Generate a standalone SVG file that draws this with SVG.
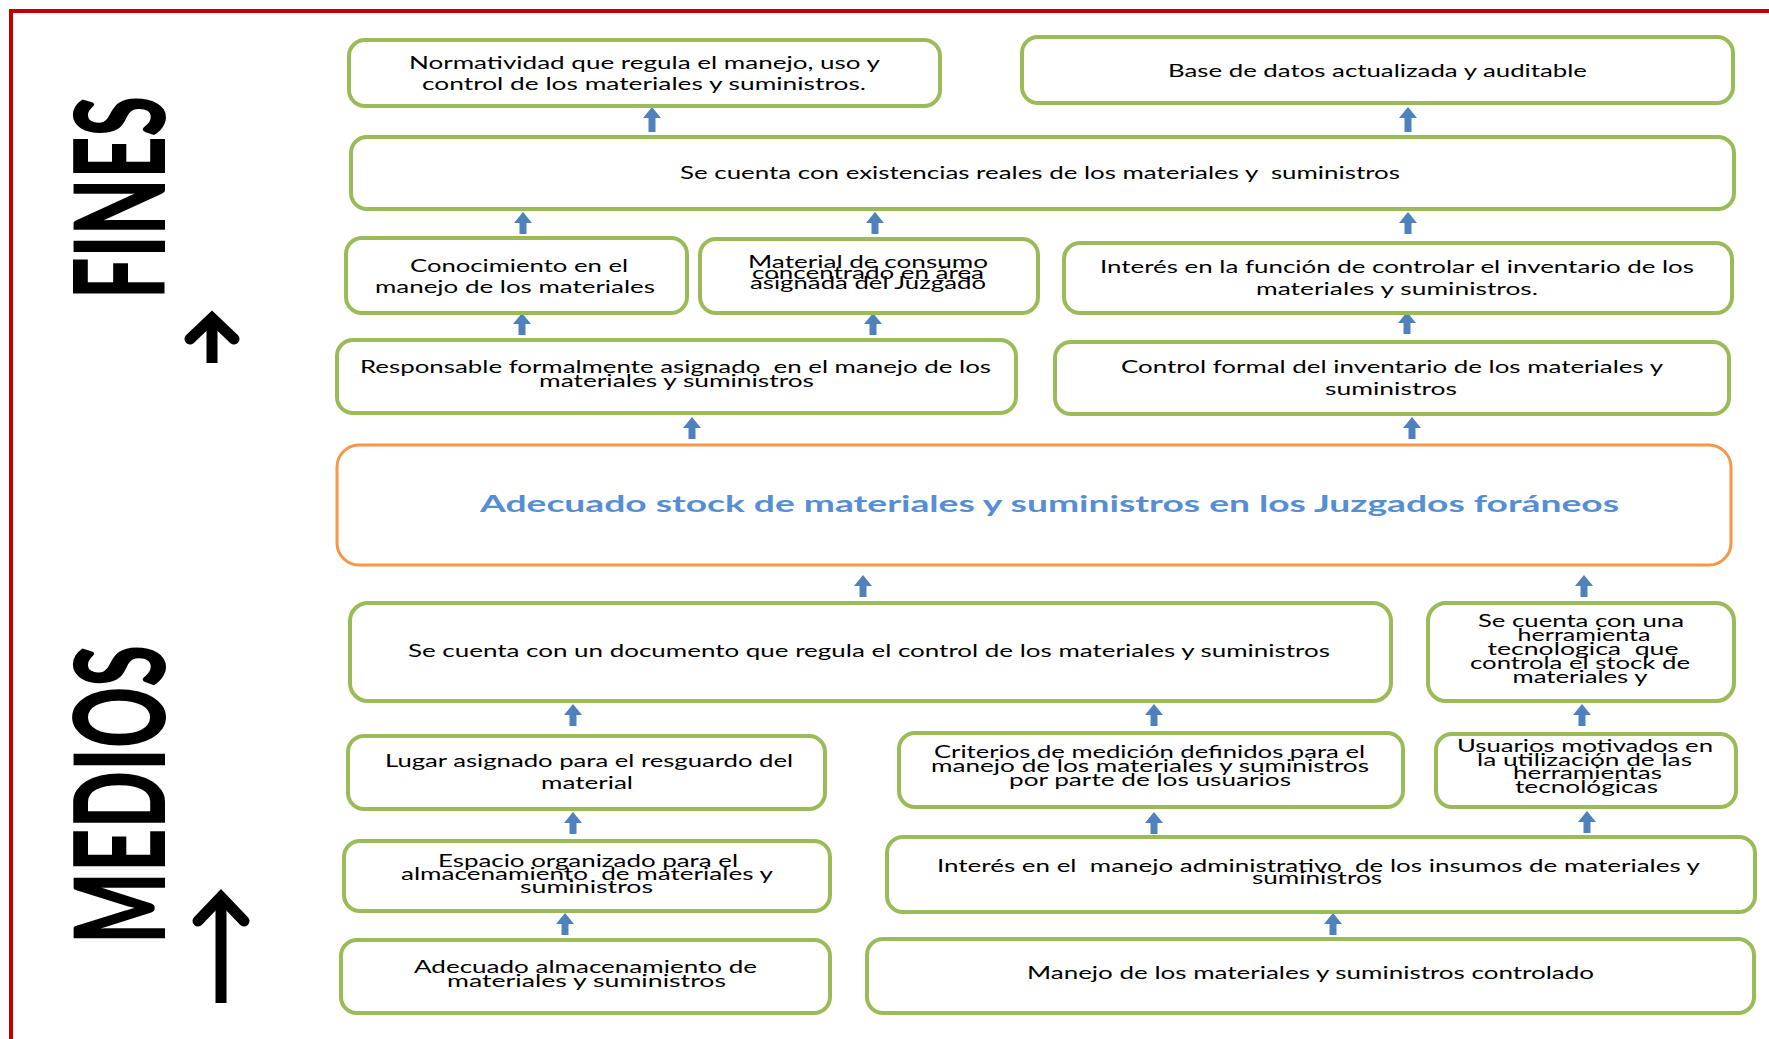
<svg xmlns="http://www.w3.org/2000/svg" xmlns:xlink="http://www.w3.org/1999/xlink" width="1769" height="1039" viewBox="0 0 1769 1039">
  <style>
    .box { fill: #ffffff; stroke: #9BBB59; stroke-width: 4; }
    .core { fill: #ffffff; stroke: #F79646; stroke-width: 3; }
    .t { font-family: Lato, "Open Sans", "Liberation Sans", sans-serif; font-size: 17px; fill: #000000; text-anchor: middle; }
    .core-t { font-family: Lato, "Open Sans", "Liberation Sans", sans-serif; font-size: 22px; font-weight: 700; fill: #558ED5; text-anchor: middle; }
    .side { font-family: Lato, "Open Sans", "Liberation Sans", sans-serif; font-size: 126px; font-weight: 900; fill: #000000; }
    .big-arrow { fill: none; stroke: #000000; stroke-width: 11; }
    .link { fill: #4F81BD; }
  </style>
  <defs>
    <path id="up25" d="M0,0 L9,11 L3.5,11 L3.5,25 L-3.5,25 L-3.5,11 L-9,11 Z"/>
    <path id="up22" d="M0,0 L9,11 L3.5,11 L3.5,22 L-3.5,22 L-3.5,11 L-9,11 Z"/>
  </defs>

  <rect width="1769" height="1039" fill="#ffffff"/>

  <!-- frame -->
  <path d="M11,1039 V11 H1769" fill="none" stroke="#C00000" stroke-width="4"/>

  <!-- side labels -->
  <g id="label-fines">
    <text class="side" transform="translate(165,299) rotate(-90)" textLength="203" lengthAdjust="spacingAndGlyphs">FINES</text>
    <path class="big-arrow" d="M212,363 V320" stroke-linecap="butt"/>
    <path class="big-arrow" d="M190,339 L212,318 L234,339" stroke-linecap="round" stroke-linejoin="miter"/>
  </g>
  <g id="label-medios">
    <text class="side" transform="translate(165,944) rotate(-90)" textLength="299" lengthAdjust="spacingAndGlyphs">MEDIOS</text>
    <path class="big-arrow" d="M221,1003 V900" stroke-linecap="butt"/>
    <path class="big-arrow" d="M198,921 L221,897 L244,921" stroke-linecap="round" stroke-linejoin="miter"/>
  </g>

  <!-- connectors -->
  <g id="connectors" class="link">
    <use xlink:href="#up25" transform="translate(652,107)"/>
    <use xlink:href="#up25" transform="translate(1408,107)"/>
    <use xlink:href="#up22" transform="translate(523,212)"/>
    <use xlink:href="#up22" transform="translate(875,212)"/>
    <use xlink:href="#up22" transform="translate(1408,212)"/>
    <use xlink:href="#up22" transform="translate(522,313)"/>
    <use xlink:href="#up22" transform="translate(873,313)"/>
    <use xlink:href="#up22" transform="translate(1407,312)"/>
    <use xlink:href="#up22" transform="translate(692,417)"/>
    <use xlink:href="#up22" transform="translate(1412,417)"/>
    <use xlink:href="#up22" transform="translate(863,575)"/>
    <use xlink:href="#up22" transform="translate(1584,575)"/>
    <use xlink:href="#up22" transform="translate(573,704)"/>
    <use xlink:href="#up22" transform="translate(1154,704)"/>
    <use xlink:href="#up22" transform="translate(1582,704)"/>
    <use xlink:href="#up22" transform="translate(573,812)"/>
    <use xlink:href="#up22" transform="translate(1154,812)"/>
    <use xlink:href="#up22" transform="translate(1587,811)"/>
    <use xlink:href="#up22" transform="translate(565,913)"/>
    <use xlink:href="#up22" transform="translate(1333,913)"/>
  </g>

  <!-- FINES side -->
  <g id="normatividad">
    <rect class="box" x="349" y="40" width="591" height="66" rx="16"/>
    <text class="t" x="644.5" y="69" textLength="471" lengthAdjust="spacingAndGlyphs">Normatividad que regula el manejo, uso y</text>
    <text class="t" x="644" y="90" textLength="444" lengthAdjust="spacingAndGlyphs">control de los materiales y suministros.</text>
  </g>
  <g id="base-datos">
    <rect class="box" x="1022" y="37" width="711" height="66" rx="16"/>
    <text class="t" x="1377.5" y="77" textLength="419" lengthAdjust="spacingAndGlyphs">Base de datos actualizada y auditable</text>
  </g>
  <g id="existencias">
    <rect class="box" x="351" y="137" width="1383" height="72" rx="16"/>
    <text class="t" x="1040" y="179" textLength="720" lengthAdjust="spacingAndGlyphs" xml:space="preserve">Se cuenta con existencias reales de los materiales y  suministros</text>
  </g>
  <g id="conocimiento">
    <rect class="box" x="346" y="238" width="341" height="75" rx="16"/>
    <text class="t" x="519" y="272" textLength="218" lengthAdjust="spacingAndGlyphs">Conocimiento en el</text>
    <text class="t" x="515" y="293" textLength="280" lengthAdjust="spacingAndGlyphs">manejo de los materiales</text>
  </g>
  <g id="material-consumo">
    <rect class="box" x="700" y="239" width="338" height="74" rx="16"/>
    <text class="t" x="868" y="268" textLength="240" lengthAdjust="spacingAndGlyphs">Material de consumo</text>
    <text class="t" x="868" y="279" textLength="232" lengthAdjust="spacingAndGlyphs">concentrado en área</text>
    <text class="t" x="868" y="289" textLength="236" lengthAdjust="spacingAndGlyphs">asignada del Juzgado</text>
  </g>
  <g id="interes-funcion">
    <rect class="box" x="1064" y="243" width="668" height="70" rx="16"/>
    <text class="t" x="1397" y="273" textLength="594" lengthAdjust="spacingAndGlyphs">Interés en la función de controlar el inventario de los</text>
    <text class="t" x="1397" y="295" textLength="282" lengthAdjust="spacingAndGlyphs">materiales y suministros.</text>
  </g>
  <g id="responsable">
    <rect class="box" x="337" y="340" width="679" height="73" rx="16"/>
    <text class="t" x="675.5" y="373" textLength="631" lengthAdjust="spacingAndGlyphs" xml:space="preserve">Responsable formalmente asignado  en el manejo de los</text>
    <text class="t" x="676.5" y="387" textLength="275" lengthAdjust="spacingAndGlyphs">materiales y suministros</text>
  </g>
  <g id="control-formal">
    <rect class="box" x="1055" y="342" width="674" height="72" rx="16"/>
    <text class="t" x="1392" y="373" textLength="542" lengthAdjust="spacingAndGlyphs">Control formal del inventario de los materiales y</text>
    <text class="t" x="1391" y="395" textLength="132" lengthAdjust="spacingAndGlyphs">suministros</text>
  </g>

  <!-- central objective -->
  <g id="objetivo">
    <rect class="core" x="337" y="445" width="1394" height="120" rx="22"/>
    <text class="core-t" x="1049.5" y="512" textLength="1139" lengthAdjust="spacingAndGlyphs">Adecuado stock de materiales y suministros en los Juzgados foráneos</text>
  </g>

  <!-- MEDIOS side -->
  <g id="documento">
    <rect class="box" x="350" y="603" width="1041" height="98" rx="18"/>
    <text class="t" x="869" y="657" textLength="922" lengthAdjust="spacingAndGlyphs">Se cuenta con un documento que regula el control de los materiales y suministros</text>
  </g>
  <g id="herramienta">
    <rect class="box" x="1428" y="603" width="306" height="98" rx="18"/>
    <text class="t" x="1581" y="627" textLength="206" lengthAdjust="spacingAndGlyphs">Se cuenta con una</text>
    <text class="t" x="1584" y="641" textLength="133" lengthAdjust="spacingAndGlyphs">herramienta</text>
    <text class="t" x="1583" y="655" textLength="191" lengthAdjust="spacingAndGlyphs" xml:space="preserve">tecnologica  que</text>
    <text class="t" x="1580" y="669" textLength="220" lengthAdjust="spacingAndGlyphs">controla el stock de</text>
    <text class="t" x="1580" y="683" textLength="135" lengthAdjust="spacingAndGlyphs">materiales y</text>
  </g>
  <g id="lugar">
    <rect class="box" x="348" y="736" width="477" height="73" rx="16"/>
    <text class="t" x="589" y="767" textLength="408" lengthAdjust="spacingAndGlyphs">Lugar asignado para el resguardo del</text>
    <text class="t" x="587" y="789" textLength="92" lengthAdjust="spacingAndGlyphs">material</text>
  </g>
  <g id="criterios">
    <rect class="box" x="899" y="733" width="504" height="74" rx="16"/>
    <text class="t" x="1149.5" y="758" textLength="431" lengthAdjust="spacingAndGlyphs">Criterios de medición definidos para el</text>
    <text class="t" x="1150" y="772" textLength="438" lengthAdjust="spacingAndGlyphs">manejo de los materiales y suministros</text>
    <text class="t" x="1150" y="786" textLength="282" lengthAdjust="spacingAndGlyphs">por parte de los usuarios</text>
  </g>
  <g id="usuarios">
    <rect class="box" x="1436" y="734" width="300" height="73" rx="16"/>
    <text class="t" x="1585" y="752" textLength="256" lengthAdjust="spacingAndGlyphs">Usuarios motivados en</text>
    <text class="t" x="1584.5" y="766" textLength="215" lengthAdjust="spacingAndGlyphs">la utilización de las</text>
    <text class="t" x="1587.5" y="779" textLength="149" lengthAdjust="spacingAndGlyphs">herramientas</text>
    <text class="t" x="1586.5" y="793" textLength="143" lengthAdjust="spacingAndGlyphs">tecnológicas</text>
  </g>
  <g id="espacio">
    <rect class="box" x="344" y="841" width="486" height="70" rx="16"/>
    <text class="t" x="588" y="867" textLength="300" lengthAdjust="spacingAndGlyphs">Espacio organizado para el</text>
    <text class="t" x="587" y="880" textLength="372" lengthAdjust="spacingAndGlyphs" xml:space="preserve">almacenamiento  de materiales y</text>
    <text class="t" x="586.5" y="893" textLength="133" lengthAdjust="spacingAndGlyphs">suministros</text>
  </g>
  <g id="interes-administrativo">
    <rect class="box" x="887" y="837" width="868" height="75" rx="16"/>
    <text class="t" x="1318.5" y="872" textLength="763" lengthAdjust="spacingAndGlyphs" xml:space="preserve">Interés en el  manejo administrativo  de los insumos de materiales y</text>
    <text class="t" x="1317" y="884" textLength="130" lengthAdjust="spacingAndGlyphs">suministros</text>
  </g>
  <g id="almacenamiento">
    <rect class="box" x="341" y="940" width="489" height="73" rx="16"/>
    <text class="t" x="585.5" y="973" textLength="343" lengthAdjust="spacingAndGlyphs">Adecuado almacenamiento de</text>
    <text class="t" x="586.5" y="987" textLength="279" lengthAdjust="spacingAndGlyphs">materiales y suministros</text>
  </g>
  <g id="manejo">
    <rect class="box" x="867" y="939" width="887" height="74" rx="16"/>
    <text class="t" x="1310.5" y="979" textLength="567" lengthAdjust="spacingAndGlyphs">Manejo de los materiales y suministros controlado</text>
  </g>
</svg>
